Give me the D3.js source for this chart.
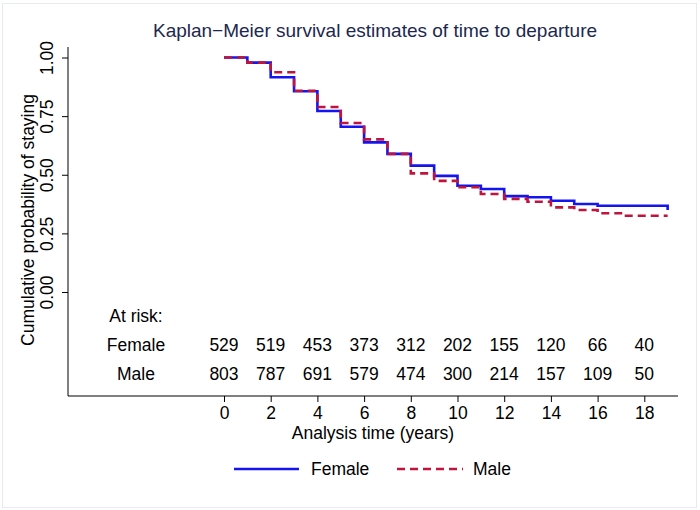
<!DOCTYPE html>
<html>
<head>
<meta charset="utf-8">
<script src="https://cdn.jsdelivr.net/npm/d3@7"></script>
<style>
  html, body { margin: 0; padding: 0; background: #ffffff; }
  svg { display: block; font-family: "Liberation Sans", Arial, sans-serif; }
</style>
</head>
<body>
<svg id="chart" width="700" height="510"></svg>
<script>
// ---- data ----
const times = [0,1,2,3,4,5,6,7,8,9,10,11,12,13,14,15,16,17,18,19];
const femaleSurv = [1.0,0.978,0.916,0.856,0.772,0.705,0.638,0.589,0.539,0.495,0.453,0.439,0.409,0.404,0.389,0.375,0.368,0.368,0.368,0.350];
const maleSurv   = [1.0,0.978,0.937,0.858,0.789,0.721,0.651,0.589,0.506,0.474,0.447,0.418,0.397,0.385,0.361,0.350,0.336,0.325,0.325,0.325];
const riskTimes = [0,2,4,6,8,10,12,14,16,18];
const femaleRisk = [529,519,453,373,312,202,155,120,66,40];
const maleRisk   = [803,787,691,579,474,300,214,157,109,50];
const yTicks = [0,0.25,0.5,0.75,1];
const yTickLabels = ["0.00","0.25","0.50","0.75","1.00"];
const seriesNames = ["Female","Male"];

// ---- layout ----
const svg = d3.select("#chart");
const FS = 17.5;
const plotLeft = 68, plotRight = 678, plotTop = 47, plotBottom = 396;
const x = d3.scaleLinear().domain([0, 18]).range([224, 644.3]);
const y = d3.scaleLinear().domain([0, 1]).range([292, 57.5]);
const blue = "#1414f0", red = "#c0143c";

// outer frame
svg.append("rect").attr("x", 2.5).attr("y", 3.5).attr("width", 694).attr("height", 504)
  .attr("fill", "#ffffff").attr("stroke", "#e6eaee").attr("stroke-width", 1);

// title
svg.append("text").attr("x", 375).attr("y", 37).attr("text-anchor", "middle")
  .attr("font-size", 19).attr("fill", "#1c2850")
  .text("Kaplan\u2212Meier survival estimates of time to departure");

// axis lines
svg.append("line").attr("x1", plotLeft).attr("x2", plotLeft).attr("y1", plotTop).attr("y2", plotBottom)
  .attr("stroke", "#000").attr("stroke-width", 1);
svg.append("line").attr("x1", plotLeft).attr("x2", plotRight).attr("y1", plotBottom).attr("y2", plotBottom)
  .attr("stroke", "#000").attr("stroke-width", 1);

// y axis
const yAxis = svg.append("g").attr("transform", `translate(${plotLeft},0)`)
  .call(d3.axisLeft(y).tickValues(yTicks).tickSize(6).tickSizeOuter(0)
    .tickFormat((d, i) => yTickLabels[i]));
yAxis.select(".domain").remove();
yAxis.selectAll(".tick line").attr("stroke", "#000");
yAxis.selectAll(".tick text")
  .attr("transform", "rotate(-90)")
  .attr("x", 0).attr("y", -15).attr("dy", 0)
  .attr("text-anchor", "middle")
  .attr("font-size", FS).attr("fill", "#000")
  .attr("font-family", "Liberation Sans, Arial, sans-serif");

// x axis
const xAxis = svg.append("g").attr("transform", `translate(0,${plotBottom})`)
  .call(d3.axisBottom(x).tickValues(riskTimes).tickSize(6).tickSizeOuter(0).tickFormat(d3.format("d")));
xAxis.select(".domain").remove();
xAxis.selectAll(".tick line").attr("stroke", "#000");
xAxis.selectAll(".tick text").attr("y", 23.3).attr("dy", 0)
  .attr("font-size", FS).attr("fill", "#000")
  .attr("font-family", "Liberation Sans, Arial, sans-serif");

// axis titles
svg.append("text").attr("x", 373).attr("y", 439).attr("text-anchor", "middle")
  .attr("font-size", FS).attr("fill", "#000").text("Analysis time (years)");
svg.append("text").attr("transform", "translate(34,220) rotate(-90)").attr("text-anchor", "middle")
  .attr("font-size", FS).attr("fill", "#000").text("Cumulative probability of staying");

// curves
const line = d3.line().curve(d3.curveStepAfter).x(d => x(d[0])).y(d => y(d[1]));
const stepData = s => times.map((t, i) => [t, s[i]]);
svg.append("path").datum(stepData(femaleSurv)).attr("d", line)
  .attr("fill", "none").attr("stroke", blue).attr("stroke-width", 2.6);
svg.append("path").datum(stepData(maleSurv)).attr("d", line)
  .attr("fill", "none").attr("stroke", red).attr("stroke-width", 2.6)
  .attr("stroke-dasharray", "8,5");

// at-risk table
svg.append("text").attr("x", 136).attr("y", 322.3).attr("text-anchor", "middle")
  .attr("font-size", FS).attr("fill", "#000").text("At risk:");
const rows = [[seriesNames[0], femaleRisk, 351.3], [seriesNames[1], maleRisk, 379.6]];
rows.forEach(([name, vals, yy]) => {
  svg.append("text").attr("x", 136).attr("y", yy).attr("text-anchor", "middle")
    .attr("font-size", FS).attr("fill", "#000").text(name);
  svg.selectAll(null).data(vals).enter().append("text")
    .attr("x", (d, i) => x(riskTimes[i])).attr("y", yy).attr("text-anchor", "middle")
    .attr("font-size", FS).attr("fill", "#000").text(d => d);
});

// legend
const lg = svg.append("g");
lg.append("line").attr("x1", 234).attr("x2", 299).attr("y1", 469).attr("y2", 469)
  .attr("stroke", blue).attr("stroke-width", 2.6);
lg.append("text").attr("x", 311).attr("y", 475.3).attr("font-size", FS).attr("fill", "#000").text(seriesNames[0]);
lg.append("line").attr("x1", 397).attr("x2", 463).attr("y1", 469).attr("y2", 469)
  .attr("stroke", red).attr("stroke-width", 2.6).attr("stroke-dasharray", "8,5");
lg.append("text").attr("x", 473).attr("y", 475.3).attr("font-size", FS).attr("fill", "#000").text(seriesNames[1]);
</script>
</body>
</html>
